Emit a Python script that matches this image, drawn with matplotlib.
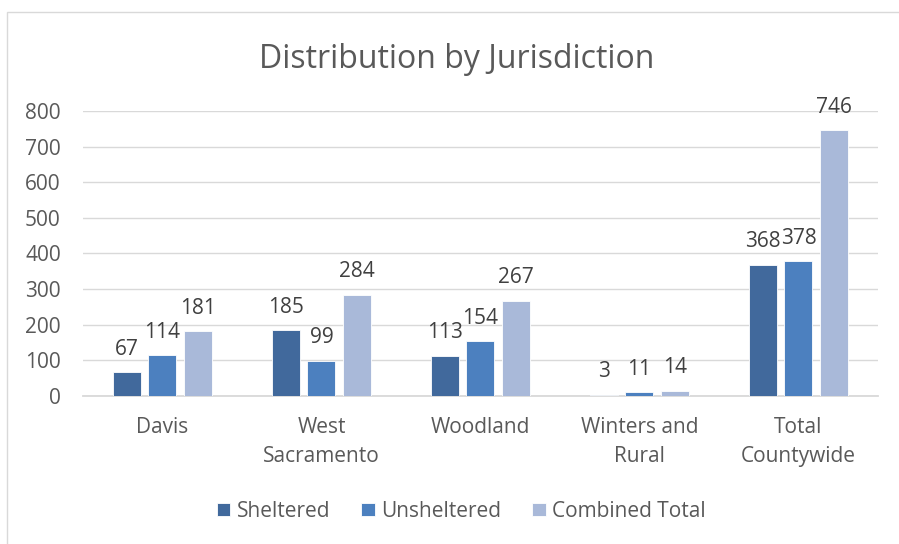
import matplotlib.pyplot as plt
import matplotlib.patches as mpatches
import numpy as np

categories = ['Davis', 'West\nSacramento', 'Woodland', 'Winters and\nRural', 'Total\nCountywide']
sheltered = [67, 185, 113, 3, 368]
unsheltered = [114, 99, 154, 11, 378]
combined = [181, 284, 267, 14, 746]

series = [('Sheltered', sheltered, '#41699C'),
          ('Unsheltered', unsheltered, '#4C80BF'),
          ('Combined Total', combined, '#A9B9D9')]

plt.rcParams['font.family'] = ['Open Sans', 'DejaVu Sans']
txt = '#595959'

fig = plt.figure(figsize=(8.99, 5.44), dpi=100)
ax = fig.add_axes([0.0923, 0.2721, 0.8843, 0.5239])

# light frame around the chart
fig.patches.append(mpatches.Rectangle((0.0075, -0.01), 1.0, 0.988, transform=fig.transFigure,
                                      fill=False, edgecolor='#D9D9D9', linewidth=1))

x = np.arange(len(categories))
w = 0.176
step = 0.223
for i, (name, vals, col) in enumerate(series):
    pos = x + (i - 1) * step
    bars = ax.bar(pos, vals, width=w, color=col, label=name, edgecolor='white', linewidth=0.6, zorder=3)
    ax.bar_label(bars, labels=[str(v) for v in vals], padding=9, fontsize=15, color='#404040')

ax.set_xlim(-0.5, len(categories) - 0.5)
ax.set_ylim(0, 800)
ax.set_yticks(range(0, 801, 100))
ax.yaxis.grid(True, color='#D9D9D9', linewidth=1, zorder=0)
for s in ['top', 'right', 'left']:
    ax.spines[s].set_visible(False)
ax.spines['bottom'].set_color('#D9D9D9')
ax.spines['bottom'].set_linewidth(1.3)
ax.tick_params(axis='both', length=0, labelsize=15, colors=txt)
ax.tick_params(axis='y', pad=16)
ax.tick_params(axis='x', pad=15)
ax.set_xticks(x)
ax.set_xticklabels(categories, linespacing=1.5)

fig.text(0.508, 0.89, 'Distribution by Jurisdiction', ha='center', va='center', fontsize=23, color=txt)

fig.legend(loc='center', bbox_to_anchor=(0.513, 0.06), ncol=3, frameon=False, fontsize=15,
           labelcolor=txt, handlelength=0.65, handleheight=0.65, handletextpad=0.3, columnspacing=1.5)

fig.savefig('out.png', dpi=100)
